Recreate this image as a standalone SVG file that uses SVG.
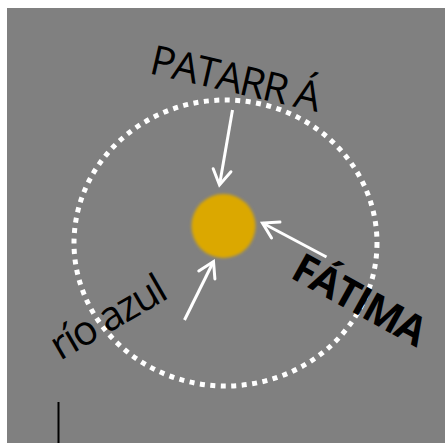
<svg xmlns="http://www.w3.org/2000/svg" width="445" height="443" viewBox="0 0 445 443">
<style>
.lbl{font-family:"Open Sans","Liberation Sans",sans-serif;font-size:41px;fill:#000;letter-spacing:-1.8px}
.arr{stroke:#fff;stroke-width:3;fill:none;marker-end:url(#ah)}
</style>
<defs>
<marker id="ah" markerUnits="userSpaceOnUse" markerWidth="40" markerHeight="40" refX="0" refY="0" viewBox="-20 -20 40 40" orient="auto" overflow="visible">
<path d="M -15 -9 L 0 0 L -15 9" stroke="#fff" stroke-width="3" fill="none" stroke-linecap="round" stroke-linejoin="miter"/>
</marker>
<filter id="blur" x="-20%" y="-20%" width="140%" height="140%"><feGaussianBlur stdDeviation="1.5"/></filter>
</defs>
<rect width="445" height="443" fill="#fff"/>
<rect x="7" y="8" width="438" height="435" fill="#808080"/>
<g id="ring"><ellipse cx="225.5" cy="243" rx="151.5" ry="143" fill="none" stroke="#fff" stroke-width="5" stroke-dasharray="5 5.5"/></g>
<g id="sun"><circle cx="223.5" cy="226" r="32" fill="#dba800" filter="url(#blur)"/></g>
<g id="tick"><line x1="58.5" y1="402" x2="58.5" y2="443" stroke="#000" stroke-width="2"/></g>
<g id="connectors">
<line class="arr" x1="232.5" y1="110" x2="219.5" y2="185"/>
<line class="arr" x1="326.5" y1="257" x2="262.5" y2="223"/>
<line class="arr" x1="184.5" y1="320" x2="213.5" y2="261.5"/>
</g>
<g id="patarra"><text class="lbl" x="148" y="73" font-weight="500" transform="rotate(13 148 73)">PATARR Á</text></g>
<g id="fatima"><text class="lbl" x="289" y="277" font-weight="bold" font-size="43" letter-spacing="-1" transform="rotate(29 289 277)">FÁTIMA</text></g>
<g id="rioazul"><text class="lbl" x="60" y="361" font-size="45" font-weight="500" letter-spacing="-1.4" transform="rotate(-30 60 361)">río azul</text></g>
</svg>
